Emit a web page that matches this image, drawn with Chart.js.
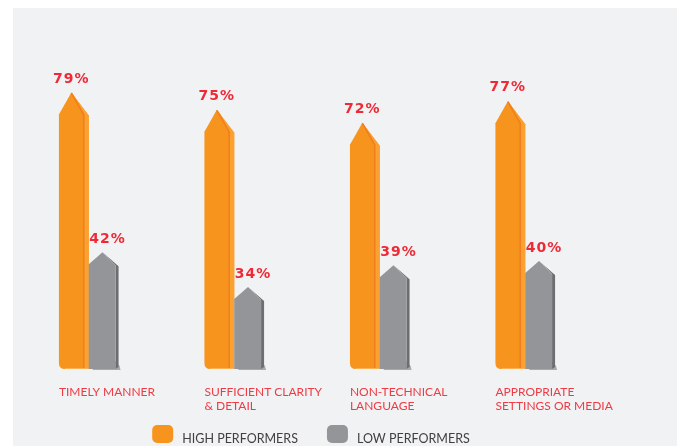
<!DOCTYPE html>
<html>
<head>
<meta charset="utf-8">
<script src="https://cdn.jsdelivr.net/npm/chart.js@4/dist/chart.umd.min.js"></script>
<style>
  html, body { margin: 0; padding: 0; background: #ffffff; }
  #wrap { position: relative; width: 680px; height: 446px; overflow: hidden; }
  #panel { position: absolute; left: 13px; top: 8px; width: 664px; height: 438px; background: #f1f2f4; }
  #c { position: absolute; left: 0; top: 0; }
</style>
</head>
<body>
<div id="wrap">
  <div id="panel"></div>
  <canvas id="c" width="680" height="446"></canvas>
</div>
<script>
// ---- data ----
const categories = [
  ["TIMELY MANNER"],
  ["SUFFICIENT CLARITY", "& DETAIL"],
  ["NON-TECHNICAL", "LANGUAGE"],
  ["APPROPRIATE", "SETTINGS OR MEDIA"]
];
const highPerformers = [79, 75, 72, 77];
const lowPerformers = [42, 34, 39, 40];
const seriesNames = ["HIGH PERFORMERS", "LOW PERFORMERS"];
const seriesColors = ["#f7941d", "#939598"];

const VALUE_RED = "#ee2a36";
const CAT_RED = "#ee3b44";
const LEGEND_TEXT = "#404041";

function drawOrange(ctx, el, b) {
  const w = el.width, L = el.x - w / 2, R = el.x + w / 2, y = el.y;
  const side = 5, sh = 22, r = 6;
  const tipX = L + (w - side) / 2;
  ctx.save();
  ctx.lineJoin = "round";
  ctx.beginPath();
  ctx.moveTo(L, y + sh);
  ctx.lineTo(tipX, y);
  ctx.lineTo(R, y + sh + 1);
  ctx.lineTo(R, b);
  ctx.lineTo(L + r, b);
  ctx.quadraticCurveTo(L, b, L, b - r);
  ctx.closePath();
  ctx.fillStyle = "#f7941d";
  ctx.fill();
  ctx.beginPath();
  ctx.moveTo(tipX, y);
  ctx.lineTo(R, y + sh + 1);
  ctx.lineTo(R, b);
  ctx.lineTo(R - side, b);
  ctx.lineTo(R - side, y + sh);
  ctx.closePath();
  ctx.fillStyle = "#f9a232";
  ctx.fill();
  ctx.beginPath();
  ctx.moveTo(tipX, y + 0.5);
  ctx.lineTo(R - side, y + sh);
  ctx.lineTo(R - side, b);
  ctx.strokeStyle = "#f27e1f";
  ctx.lineWidth = 1.6;
  ctx.stroke();
  ctx.beginPath();
  ctx.moveTo(L + r, b - 0.5);
  ctx.lineTo(R, b - 0.5);
  ctx.strokeStyle = "#fbb156";
  ctx.lineWidth = 1;
  ctx.stroke();
  ctx.restore();
  return tipX;
}

function drawGray(ctx, el, b) {
  const w = el.width, L = el.x - w / 2, R = el.x + w / 2, y = el.y;
  const side = 3, sh = 12;
  const tipX = L + w * 0.46;
  ctx.save();
  ctx.lineJoin = "round";
  ctx.beginPath();
  ctx.moveTo(R - side, b - 8);
  ctx.lineTo(R + 1, b - 3);
  ctx.lineTo(R + 2, b + 1);
  ctx.lineTo(L + 4, b + 1);
  ctx.lineTo(L + 4, b);
  ctx.closePath();
  ctx.fillStyle = "#a7a9ac";
  ctx.fill();
  ctx.beginPath();
  ctx.moveTo(tipX, y);
  ctx.lineTo(R, y + sh + 2);
  ctx.lineTo(R, b - 2);
  ctx.lineTo(R - side, b);
  ctx.lineTo(R - side, y + sh + 1);
  ctx.closePath();
  ctx.fillStyle = "#6d6e71";
  ctx.fill();
  ctx.beginPath();
  ctx.moveTo(L, y + sh);
  ctx.lineTo(tipX, y);
  ctx.lineTo(R - side, y + sh + 1);
  ctx.lineTo(R - side, b);
  ctx.lineTo(L, b);
  ctx.closePath();
  ctx.fillStyle = "#939598";
  ctx.fill();
  ctx.restore();
  return tipX;
}

const pencilPlugin = {
  id: "pencil",
  beforeDatasetDraw() { return false; },
  afterDatasetsDraw(chart) {
    const ctx = chart.ctx;
    const bottom = chart.chartArea.bottom;
    const m0 = chart.getDatasetMeta(0), m1 = chart.getDatasetMeta(1);
    ctx.save();
    ctx.font = 'bold 14px "DejaVu Sans"';
    ctx.textAlign = "center";
    ctx.textBaseline = "alphabetic";
    if ("letterSpacing" in ctx) ctx.letterSpacing = "1px";
    m0.data.forEach((el, i) => {
      const tip = drawOrange(ctx, el, Math.min(el.base, bottom));
      ctx.fillStyle = VALUE_RED;
      ctx.fillText(chart.data.datasets[0].data[i] + "%", tip, el.y - 10);
    });
    m1.data.forEach((el, i) => {
      const tip = drawGray(ctx, el, Math.min(el.base, bottom));
      ctx.fillStyle = VALUE_RED;
      ctx.fillText(chart.data.datasets[1].data[i] + "%", tip + 5, el.y - 9);
    });
    if ("letterSpacing" in ctx) ctx.letterSpacing = "0px";
    ctx.font = '12px Lato';
    ctx.textAlign = "left";
    ctx.fillStyle = CAT_RED;
    m0.data.forEach((el, i) => {
      const x = el.x - el.width / 2;
      categories[i].forEach((line, j) => {
        ctx.fillText(line, x, bottom + 27 + j * 14);
      });
    });
    ctx.restore();
  },
  afterDraw(chart) {
    const ctx = chart.ctx;
    const area = chart.chartArea;
    ctx.save();
    ctx.font = '12.5px Lato';
    ctx.textBaseline = "alphabetic";
    ctx.textAlign = "left";
    const boxW = 21, boxH = 18, gap = 9, itemGap = 29;
    const items = chart.data.datasets.map(ds => ({ text: ds.label, color: ds.backgroundColor, tw: ctx.measureText(ds.label).width }));
    let total = 0;
    items.forEach((it, i) => { total += boxW + gap + it.tw + (i ? itemGap : 0); });
    let x = (area.left + area.right) / 2 + 4 - total / 2;
    const boxTop = 425;
    items.forEach(it => {
      ctx.beginPath();
      ctx.roundRect(x, boxTop, boxW, boxH, 5);
      ctx.fillStyle = it.color;
      ctx.fill();
      ctx.fillStyle = LEGEND_TEXT;
      ctx.fillText(it.text, x + boxW + gap, boxTop + boxH);
      x += boxW + gap + it.tw + itemGap;
    });
    ctx.restore();
  }
};

new Chart(document.getElementById("c"), {
  type: "bar",
  data: {
    labels: categories.map(c => c.join(" ")),
    datasets: [
      { label: seriesNames[0], data: highPerformers, backgroundColor: seriesColors[0] },
      { label: seriesNames[1], data: lowPerformers, backgroundColor: seriesColors[1] }
    ]
  },
  options: {
    responsive: false,
    animation: false,
    devicePixelRatio: 1,
    layout: { padding: { left: 16, right: 82, top: 45, bottom: 77 } },
    datasets: { bar: { categoryPercentage: 0.41, barPercentage: 1.0 } },
    scales: {
      x: { display: false },
      y: { display: false, min: 15, max: 90 }
    },
    plugins: {
      legend: { display: false },
      tooltip: { enabled: false }
    }
  },
  plugins: [pencilPlugin]
});
</script>
</body>
</html>
